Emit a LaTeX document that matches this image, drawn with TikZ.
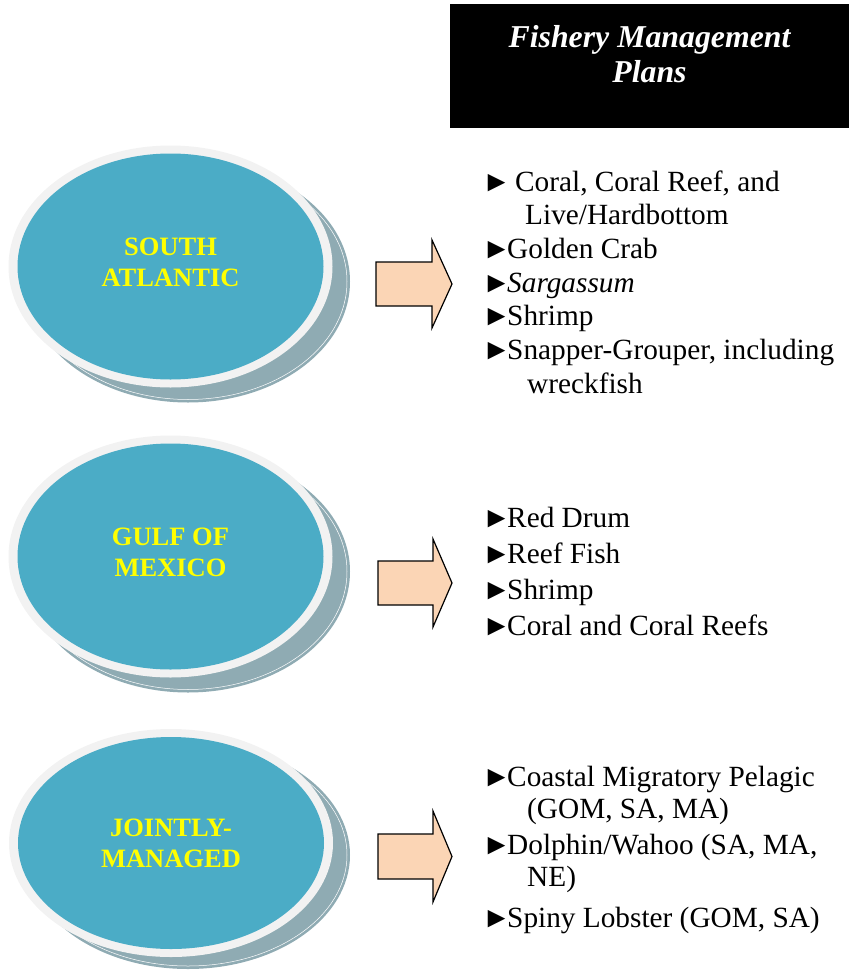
\documentclass[tikz,border=0pt]{standalone}
\usepackage{fontspec}
\setmainfont{Liberation Serif}
\usetikzlibrary{shapes.geometric}
\definecolor{sea}{HTML}{4BACC6}
\definecolor{rimgrey}{HTML}{F2F2F2}
\definecolor{shadegrey}{HTML}{8FABB3}
\definecolor{peach}{HTML}{FBD5B5}
\definecolor{lemon}{HTML}{FFFF00}
\newcommand{\tri}{\makebox[25pt][l]{►}}
\tikzset{every picture/.style = {x=1pt, y=-1pt}}
\tikzset{shade/.style = {shape=ellipse, fill=shadegrey, inner sep=0, minimum width=324pt, minimum height=242pt}}
\tikzset{gleam/.style = {shape=ellipse, draw=white, line width=0.5pt, inner sep=0, minimum width=318pt, minimum height=236pt}}
\tikzset{rim/.style = {shape=ellipse, fill=rimgrey, inner sep=0, minimum width=324pt, minimum height=242pt}}
\tikzset{region/.style = {shape=ellipse, fill=sea, inner sep=0, minimum width=306pt, minimum height=226pt}}
\tikzset{tag/.style = {text=lemon, align=center, inner sep=0, font=\bfseries\fontsize{26.5}{31}\selectfont}}
\tikzset{plan/.style = {draw, line width=1.2pt, fill=peach, line join=miter}}
\tikzset{items/.style = {anchor=west, align=left, inner sep=0, font=\fontsize{29.3}{33.7}\selectfont}}

\begin{document}
\begin{tikzpicture}
  \useasboundingbox (0, 0) rectangle (849, 972);
  % header
  \node[fill=black, inner sep=0, minimum width=399pt, minimum height=124pt] (fmp) at (649.5, 66) {};
  \node[text=white, align=center, inner sep=0, font=\bfseries\itshape\fontsize{31.8}{35}\selectfont]
    (title) at (649.5, 54) {Fishery Management\\Plans};
  % south atlantic
  \node[shade] (saShade) at (188, 281.5) {};
  \node[gleam] (saGleam) at (188, 281.5) {};
  \node[rim] (saRim) at (170.5, 266.5) {};
  \node[region] (sa) at (170.5, 266.5) {};
  \node[tag] (saTag) at (170.5, 262) {SOUTH\\ATLANTIC};
  \coordinate (saArrow) at (376, 262);
  \draw[plan] (saArrow) -- ++(56, 0) -- ++(0, -22) -- ++(20, 44)
    -- ++(-20, 44) -- ++(0, -22) -- ++(-56, 0) -- cycle;
  \node[items] (saList) at (482, 282) {\tri\hspace{8pt}Coral, Coral Reef, and\\
    \hspace*{43pt}Live/Hardbottom\\
    \tri Golden Crab\\
    \tri\textit{Sargassum}\\
    \tri Shrimp\\
    \tri Snapper-Grouper, including\\
    \hspace*{45pt}wreckfish};
  % gulf of mexico
  \node[shade] (gomShade) at (188, 571.5) {};
  \node[gleam] (gomGleam) at (188, 571.5) {};
  \node[rim] (gomRim) at (170.5, 556.5) {};
  \node[region] (gom) at (170.5, 556.5) {};
  \node[tag] (gomTag) at (170.5, 552) {GULF OF\\MEXICO};
  \coordinate (gomArrow) at (378, 561);
  \draw[plan] (gomArrow) -- ++(55, 0) -- ++(0, -22) -- ++(19, 44)
    -- ++(-19, 44) -- ++(0, -22) -- ++(-55, 0) -- cycle;
  \node[items] (gomList) at (482, 571.5) {\tri Red Drum\\[2.6pt]
    \tri Reef Fish\\[2.6pt]
    \tri Shrimp\\[2.6pt]
    \tri Coral and Coral Reefs};
  % jointly managed
  \node[shade, minimum height=228pt] (jmShade) at (188, 855) {};
  \node[gleam, minimum height=222pt] (jmGleam) at (188, 855) {};
  \node[rim, minimum height=228pt] (jmRim) at (171, 843) {};
  \node[region, minimum height=212pt] (jm) at (171, 843) {};
  \node[tag] (jmTag) at (171, 843.5) {JOINTLY-\\MANAGED};
  \coordinate (jmArrow) at (378, 834);
  \draw[plan] (jmArrow) -- ++(55, 0) -- ++(0, -23) -- ++(19, 45.5)
    -- ++(-19, 45.5) -- ++(0, -23) -- ++(-55, 0) -- cycle;
  \node[items, font=\fontsize{29.3}{32}\selectfont] (jmList) at (482, 849.5) {\tri Coastal Migratory Pelagic\\
    \hspace*{45pt}(GOM, SA, MA)\\[4pt]
    \tri Dolphin/Wahoo (SA, MA,\\
    \hspace*{45pt}NE)\\[9pt]
    \tri Spiny Lobster (GOM, SA)};
\end{tikzpicture}
\end{document}
